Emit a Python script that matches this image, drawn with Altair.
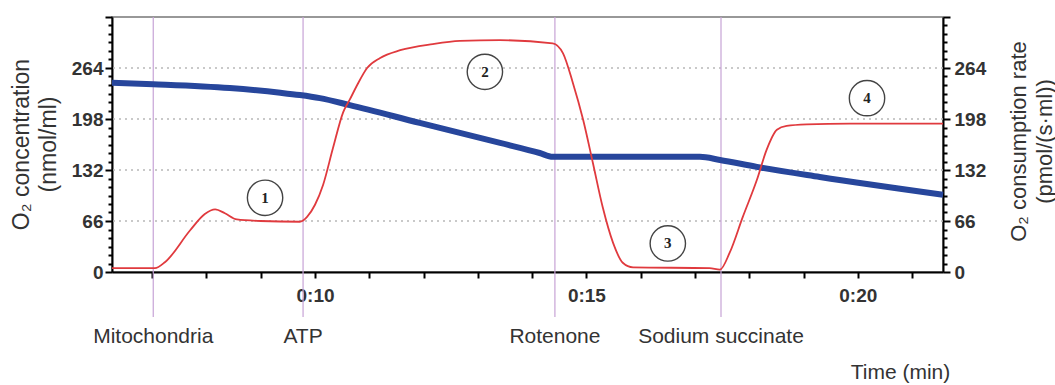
import altair as alt
import pandas as pd

# O2 consumption rate (red, right axis) -- time in minutes, value in pmol/(s*ml)
rate_t = [6.26, 7.05, 7.24, 7.70, 7.97, 8.16, 8.34, 8.56, 8.99, 9.72, 9.85, 10.0, 10.15,
          10.33, 10.52, 10.64, 10.77, 10.96, 11.20, 11.57, 12.17, 12.67, 13.41, 14.38,
          14.57, 14.75, 14.94, 15.12, 15.30, 15.49, 15.67, 15.86, 17.27, 17.46, 17.64,
          17.88, 18.14, 18.32, 18.51, 18.69, 19.06, 19.85, 21.57]
rate_v = [5, 5, 13, 54, 75, 81, 76, 68, 66, 65, 71, 87, 113,
          160, 207, 223, 241, 264, 277, 287, 295, 299, 300, 296,
          283, 245, 197, 141, 84, 38, 12, 6, 5, 3, 25,
          71, 119, 158, 184, 189, 191, 192, 192]

# O2 concentration (blue, left axis) -- nmol/ml
conc_t = [6.26, 7.02, 8.43, 9.36, 9.72, 10.09, 10.64, 11.93, 13.41, 14.14, 14.38,
          17.09, 17.46, 18.14, 19.30, 21.57]
conc_v = [245, 243, 238, 232, 229, 225, 216, 193, 167, 154, 149,
          149, 145, 136, 123, 100]

# Additions
event_t = [7.02, 9.78, 14.42, 17.48]
event_labels = ["Mitochondria", "ATP", "Rotenone", "Sodium succinate"]

# Numbered phase markers
marker_t = [9.08, 13.13, 16.50, 20.17]
marker_v = [96, 259, 37, 225]
marker_labels = ["1", "2", "3", "4"]

x_ticks = list(range(7, 22))
y_ticks = list(range(0, 331, 11))
grid_values = [66, 132, 198, 264]

FONT = "Liberation Sans, Arial, sans-serif"

rate_df = pd.DataFrame({"t": rate_t, "v": rate_v})
conc_df = pd.DataFrame({"t": conc_t, "v": conc_v})
event_df = pd.DataFrame({"t": event_t, "label": event_labels})
marker_df = pd.DataFrame({"t": marker_t, "v": marker_v, "label": marker_labels})
grid_df = pd.DataFrame({"v": grid_values})

x_scale = alt.Scale(domain=[6.26, 21.57], nice=False, zero=False)
y_scale = alt.Scale(domain=[0, 330], nice=False, zero=True)

major = "datum.value % 66 === 0"
tick_size = {"condition": {"test": major, "value": 7}, "value": 4}

x_axis = alt.Axis(
    values=x_ticks,
    labelExpr="datum.value % 5 === 0 ? '0:' + datum.value : ''",
    labelOverlap=False, labelFlush=False,
    tickSize=6, tickWidth=2, tickColor="black",
    domainColor="black", domainWidth=2,
    labelFont=FONT, labelFontSize=19, labelFontWeight="bold", labelColor="#333",
    labelPadding=8, grid=False,
    title="Time (min)", titleFont=FONT, titleFontSize=21, titleFontWeight="normal",
    titleColor="#333", titleX=788, titleY=100, titleAlign="center", titleBaseline="middle",
)

left_axis = alt.Axis(
    values=y_ticks,
    labelExpr="datum.value % 66 === 0 && datum.value < 300 ? datum.value : ''",
    labelOverlap=False, labelFlush=False,
    tickSize=tick_size, tickWidth=2, tickColor="black",
    domainColor="black", domainWidth=2,
    labelFont=FONT, labelFontSize=19, labelFontWeight="bold", labelColor="#333",
    labelPadding=2,
    grid=False,
    title=["O\u2082 concentration", "(nmol/ml)"],
    titleFont=FONT, titleFontSize=23, titleFontWeight="normal", titleColor="#333",
    titleLineHeight=27, titleAngle=270, titleAlign="center", titleBaseline="middle",
    titleX=-91, titleY=127,
)

right_axis = alt.Axis(
    orient="right",
    values=y_ticks,
    labelExpr="datum.value % 66 === 0 && datum.value < 300 ? datum.value : ''",
    labelOverlap=False, labelFlush=False,
    tickSize=tick_size, tickWidth=2, tickColor="black",
    domainColor="black", domainWidth=2,
    labelFont=FONT, labelFontSize=19, labelFontWeight="bold", labelColor="#333",
    labelPadding=4, grid=False,
    title=["O\u2082 consumption rate", "(pmol/(s\u00b7ml))"],
    titleFont=FONT, titleFontSize=22, titleFontWeight="normal", titleColor="#333",
    titleLineHeight=26, titleAngle=270, titleAlign="center", titleBaseline="middle",
    titleX=75, titleY=124,
)

grid = alt.Chart(grid_df).mark_rule(color="#b8b8b8", strokeWidth=1.5, strokeDash=[2, 4]).encode(
    y=alt.Y("v:Q", scale=y_scale, axis=left_axis),
)

rules = alt.Chart(event_df).mark_rule(color="#c7a3d6", strokeWidth=1.2).encode(
    x=alt.X("t:Q", scale=x_scale, axis=x_axis),
    y=alt.value(0), y2=alt.value(300),
)

event_text = alt.Chart(event_df).mark_text(
    font=FONT, fontSize=21, color="#333", baseline="alphabetic", align="center"
).encode(
    x=alt.X("t:Q", scale=x_scale, axis=x_axis),
    y=alt.value(326),
    text="label:N",
)

blue = alt.Chart(conc_df).mark_line(color="#27469c", strokeWidth=6, interpolate="monotone").encode(
    x=alt.X("t:Q", scale=x_scale, axis=x_axis),
    y=alt.Y("v:Q", scale=y_scale, axis=left_axis),
)

circles = alt.Chart(marker_df).mark_point(
    shape="circle", size=1250, filled=False, stroke="#444", strokeWidth=1.4, opacity=1
).encode(
    x=alt.X("t:Q", scale=x_scale, axis=x_axis),
    y=alt.Y("v:Q", scale=y_scale, axis=left_axis),
)

circle_text = alt.Chart(marker_df).mark_text(
    font="Liberation Serif, Times New Roman, serif", fontSize=15, fontWeight="bold",
    color="#222", baseline="middle", align="center"
).encode(
    x=alt.X("t:Q", scale=x_scale, axis=x_axis),
    y=alt.Y("v:Q", scale=y_scale, axis=left_axis),
    text="label:N",
)

left = alt.layer(grid, rules, event_text, blue, circles, circle_text)

red = alt.Chart(rate_df).mark_line(color="#e03a3e", strokeWidth=1.8, interpolate="monotone").encode(
    x=alt.X("t:Q", scale=x_scale, axis=x_axis),
    y=alt.Y("v:Q", scale=y_scale, axis=right_axis),
)

chart = alt.layer(left, red).resolve_scale(y="independent").properties(
    width=831, height=255,
    autosize=alt.AutoSizeParams(type="none"),
    padding={"left": 112, "top": 17, "right": 112, "bottom": 113},
    background="white",
).configure_view(stroke="#777", strokeWidth=1.5)

chart.save("out.html", embed_options={"renderer": "svg", "actions": False})
